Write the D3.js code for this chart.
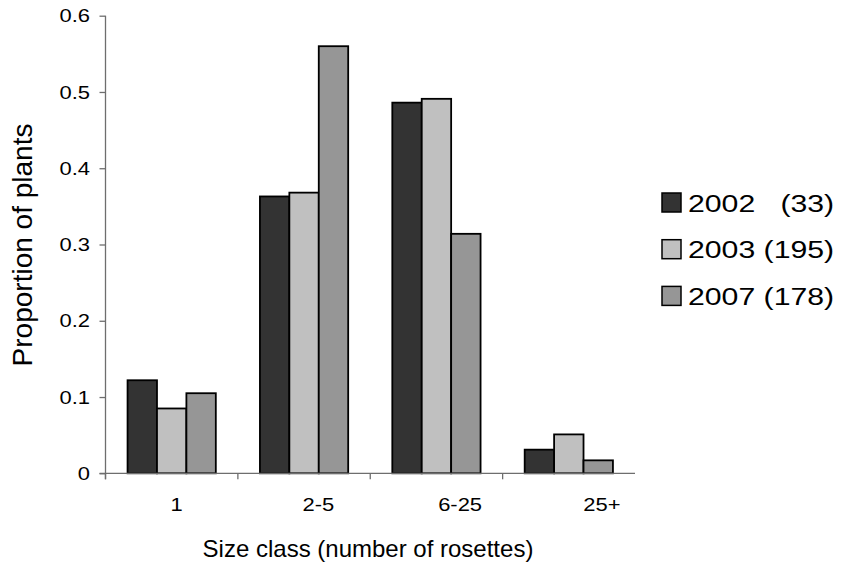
<!DOCTYPE html>
<html>
<head>
<meta charset="utf-8">
<script src="https://cdn.jsdelivr.net/npm/d3@7"></script>
<style>
  html, body { margin: 0; padding: 0; background: #fff; }
  svg { display: block; font-family: "Liberation Sans", Arial, sans-serif; }
</style>
</head>
<body>
<svg id="chart" width="841" height="567"></svg>
<script>
const categories = ["1", "2-5", "6-25", "25+"];
const seriesNames = ["2002   (33)", "2003 (195)", "2007 (178)"];
const values2002 = [0.122, 0.363, 0.486, 0.031];
const values2003 = [0.085, 0.368, 0.491, 0.051];
const values2007 = [0.105, 0.560, 0.314, 0.017];
const yTicks = [0, 0.1, 0.2, 0.3, 0.4, 0.5, 0.6];
const colors = ["#333333", "#c0c0c0", "#969696"];

const series = [values2002, values2003, values2007];

const svg = d3.select("#chart");
const pLeft = 105.5, pRight = 635, pTop = 15.7, pBottom = 473.3;
const tickStretch = 1.22, legendStretch = 1.26;

const x = d3.scaleBand().domain(categories).range([pLeft, pRight])
  .paddingInner(1/3).paddingOuter(1/6);
const xs = d3.scaleBand().domain(d3.range(series.length)).range([0, x.bandwidth()]);
const y = d3.scaleLinear().domain([0, 0.6]).range([pBottom, pTop]);
// label positions (labels in the reference drift to the right)
const xl = d3.scaleBand().domain(categories).range([105.8, 672.7]);

// bars
categories.forEach((c, i) => {
  series.forEach((s, j) => {
    svg.append("rect")
      .attr("x", x(c) + xs(j))
      .attr("y", y(s[i]))
      .attr("width", xs.bandwidth())
      .attr("height", pBottom - y(s[i]))
      .attr("fill", colors[j])
      .attr("stroke", "#000")
      .attr("stroke-width", 1.8);
  });
});

// y axis
const yAxis = d3.axisLeft(y).tickValues(yTicks).tickSize(6)
  .tickFormat(d => d === 0 ? "0" : d3.format(".1f")(d));
const gy = svg.append("g").attr("transform", `translate(${pLeft},0)`).call(yAxis);
gy.select(".domain").remove();
gy.append("line").attr("x1", 0).attr("x2", 0).attr("y1", pTop).attr("y2", pBottom + 6)
  .attr("stroke", "#6e6e6e").attr("stroke-width", 1.3);
gy.selectAll(".tick line").attr("stroke", "#6e6e6e").attr("stroke-width", 1.3);
gy.selectAll(".tick text")
  .attr("x", 0).attr("dy", "0.34em")
  .attr("transform", `translate(-15.5,0) scale(${tickStretch},1)`)
  .attr("font-size", 18).attr("fill", "#000")
  .attr("font-family", "Liberation Sans, Arial, sans-serif");

// x axis
svg.append("line").attr("x1", pLeft - 6).attr("x2", pRight).attr("y1", pBottom).attr("y2", pBottom)
  .attr("stroke", "#6e6e6e").attr("stroke-width", 1.3);
categories.forEach(c => {
  const bx = x(c) - x.step() * x.paddingInner() / 2;
  svg.append("line").attr("x1", bx).attr("x2", bx).attr("y1", pBottom).attr("y2", pBottom + 6)
    .attr("stroke", "#6e6e6e").attr("stroke-width", 1.3);
  svg.append("text")
    .attr("transform", `translate(${xl(c) + xl.bandwidth() / 2},511) scale(${tickStretch},1)`)
    .attr("text-anchor", "middle").attr("font-size", 18).text(c);
});

// axis titles
svg.append("text").attr("x", 368).attr("y", 557).attr("text-anchor", "middle")
  .attr("font-size", 24).text("Size class (number of rosettes)");
svg.append("text").attr("transform", "translate(31.5,245) rotate(-90)")
  .attr("text-anchor", "middle").attr("font-size", 28).text("Proportion of plants");

// legend
const lg = svg.append("g").attr("transform", "translate(662,193)");
seriesNames.forEach((n, j) => {
  const g = lg.append("g").attr("transform", `translate(0,${j * 46.7})`);
  g.append("rect").attr("x", 0).attr("y", 0).attr("width", 19).attr("height", 19)
    .attr("fill", colors[j]).attr("stroke", "#000").attr("stroke-width", 1.5);
  g.append("text").attr("transform", `translate(26,18.5) scale(${legendStretch},1)`)
    .attr("font-size", 24).style("white-space", "pre").text(n);
});
</script>
</body>
</html>
